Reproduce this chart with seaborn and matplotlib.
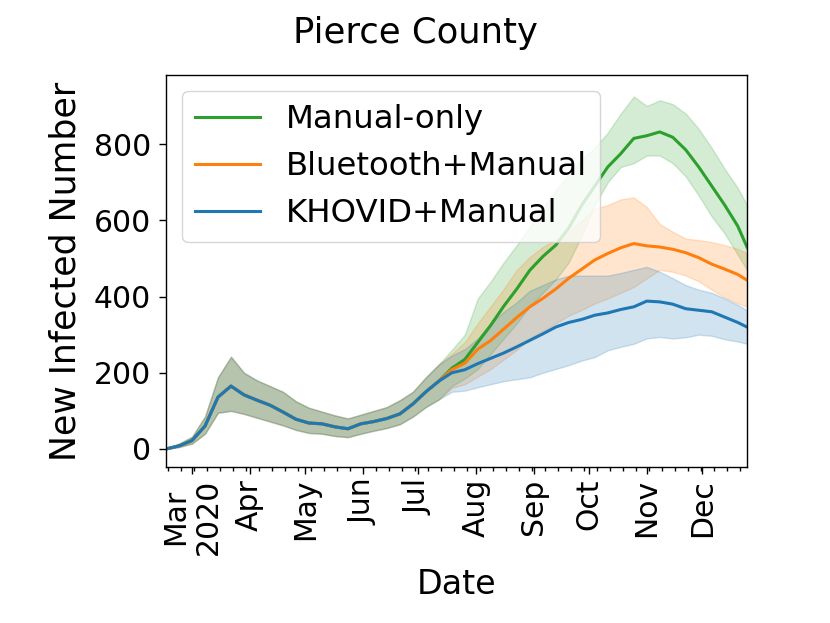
import numpy as np
import pandas as pd
import matplotlib
matplotlib.use("Agg")
import matplotlib.pyplot as plt
import matplotlib.dates as mdates
import seaborn as sns

# ---- data ----
dates = list(pd.date_range("2020-02-16", "2020-12-20", freq="7D")) + [pd.Timestamp("2020-12-25")]

# Feb 16 .. Jul 12 : all three scenarios coincide
shared_mid = [0, 8, 22, 60, 136, 165, 142, 128, 115, 97, 78, 68, 66, 58, 53, 66, 72, 80, 92, 118, 150, 178]
shared_hi = [2, 14, 32, 85, 188, 242, 200, 180, 165, 150, 125, 108, 98, 88, 80, 90, 100, 110, 128, 150, 188, 222]
shared_lo = [0, 5, 14, 40, 95, 100, 92, 82, 72, 62, 50, 42, 40, 34, 31, 40, 48, 55, 65, 85, 110, 130]

# Jul 19 .. Dec 25
manual_mid = [212, 235, 280, 325, 375, 420, 469, 505, 535, 580, 640, 690, 740, 775, 815, 822, 832, 818, 785, 740, 690, 640, 585, 530]
manual_hi = [260, 300, 395, 440, 490, 535, 583, 630, 680, 720, 760, 790, 830, 880, 925, 900, 915, 905, 880, 840, 790, 735, 685, 640]
manual_lo = [165, 185, 210, 250, 290, 330, 375, 410, 445, 490, 560, 640, 700, 740, 750, 770, 770, 750, 715, 665, 610, 565, 510, 470]

bt_mid = [208, 225, 262, 285, 315, 345, 373, 395, 420, 448, 472, 496, 513, 528, 539, 533, 530, 524, 515, 502, 485, 472, 458, 443]
bt_hi = [250, 280, 330, 375, 420, 470, 504, 530, 550, 570, 600, 630, 640, 655, 660, 635, 590, 570, 552, 548, 543, 535, 525, 513]
bt_lo = [160, 170, 190, 210, 235, 260, 290, 310, 330, 350, 365, 382, 395, 410, 425, 448, 470, 465, 455, 440, 418, 398, 382, 373]

kh_mid = [200, 208, 224, 238, 252, 268, 285, 302, 320, 332, 340, 351, 357, 366, 373, 388, 386, 380, 368, 364, 360, 346, 332, 320]
kh_hi = [245, 262, 290, 330, 360, 385, 415, 430, 445, 455, 455, 455, 455, 462, 470, 478, 465, 448, 430, 418, 410, 395, 378, 364]
kh_lo = [150, 153, 162, 170, 178, 183, 188, 200, 210, 220, 232, 241, 259, 268, 276, 290, 294, 290, 293, 300, 297, 288, 282, 276]

methods = ["Manual-only", "Bluetooth+Manual", "KHOVID+Manual"]
colors = ["#2ca02c", "#ff7f0e", "#1f77b4"]

month_ticks = list(pd.date_range("2020-03-01", "2020-12-01", freq="MS"))
month_labels = ["Mar\n2020", "Apr", "May", "Jun", "Jul", "Aug", "Sep", "Oct", "Nov", "Dec"]
y_ticks = [0, 200, 400, 600, 800]

series = {
    "Manual-only": (manual_lo, manual_mid, manual_hi),
    "Bluetooth+Manual": (bt_lo, bt_mid, bt_hi),
    "KHOVID+Manual": (kh_lo, kh_mid, kh_hi),
}

rows = []
for m in methods:
    lo, mid, hi = series[m]
    lo = shared_lo + lo
    mid = shared_mid + mid
    hi = shared_hi + hi
    for d, a, b, c in zip(dates, lo, mid, hi):
        rows.append((d, m, a))
        rows.append((d, m, b))
        rows.append((d, m, c))
df = pd.DataFrame(rows, columns=["Date", "Method", "value"])

# ---- plot ----
fig, ax = plt.subplots(figsize=(8.3, 6.23), dpi=100)
fig.subplots_adjust(left=0.2, right=0.9, top=0.88, bottom=0.25)

sns.lineplot(data=df, x="Date", y="value", hue="Method", hue_order=methods,
             palette=colors, estimator="median", errorbar=("pi", 100),
             linewidth=2.2, ax=ax)

ax.set_xlim(dates[0], dates[-1])
ax.set_ylim(-48, 982)
ax.set_yticks(y_ticks)

ax.set_xticks(month_ticks)
ax.set_xticklabels(month_labels, rotation=90)
ax.xaxis.set_minor_locator(mdates.WeekdayLocator(byweekday=mdates.MO))

ax.tick_params(axis="both", which="major", labelsize=21.5, length=4.8, width=1.0)
ax.tick_params(axis="y", which="major", pad=6)
ax.tick_params(axis="x", which="minor", length=2.6, width=1.0)
for s in ax.spines.values():
    s.set_linewidth(1.0)

ax.set_xlabel("Date", fontsize=24, labelpad=9)
ax.set_ylabel("New Infected Number", fontsize=25, labelpad=8)
fig.suptitle("Pierce County", fontsize=25.5, y=0.975)

h, l = ax.get_legend_handles_labels()
ax.legend(h, l, loc="upper left", fontsize=23.3)

fig.savefig("out.png", dpi=100)
